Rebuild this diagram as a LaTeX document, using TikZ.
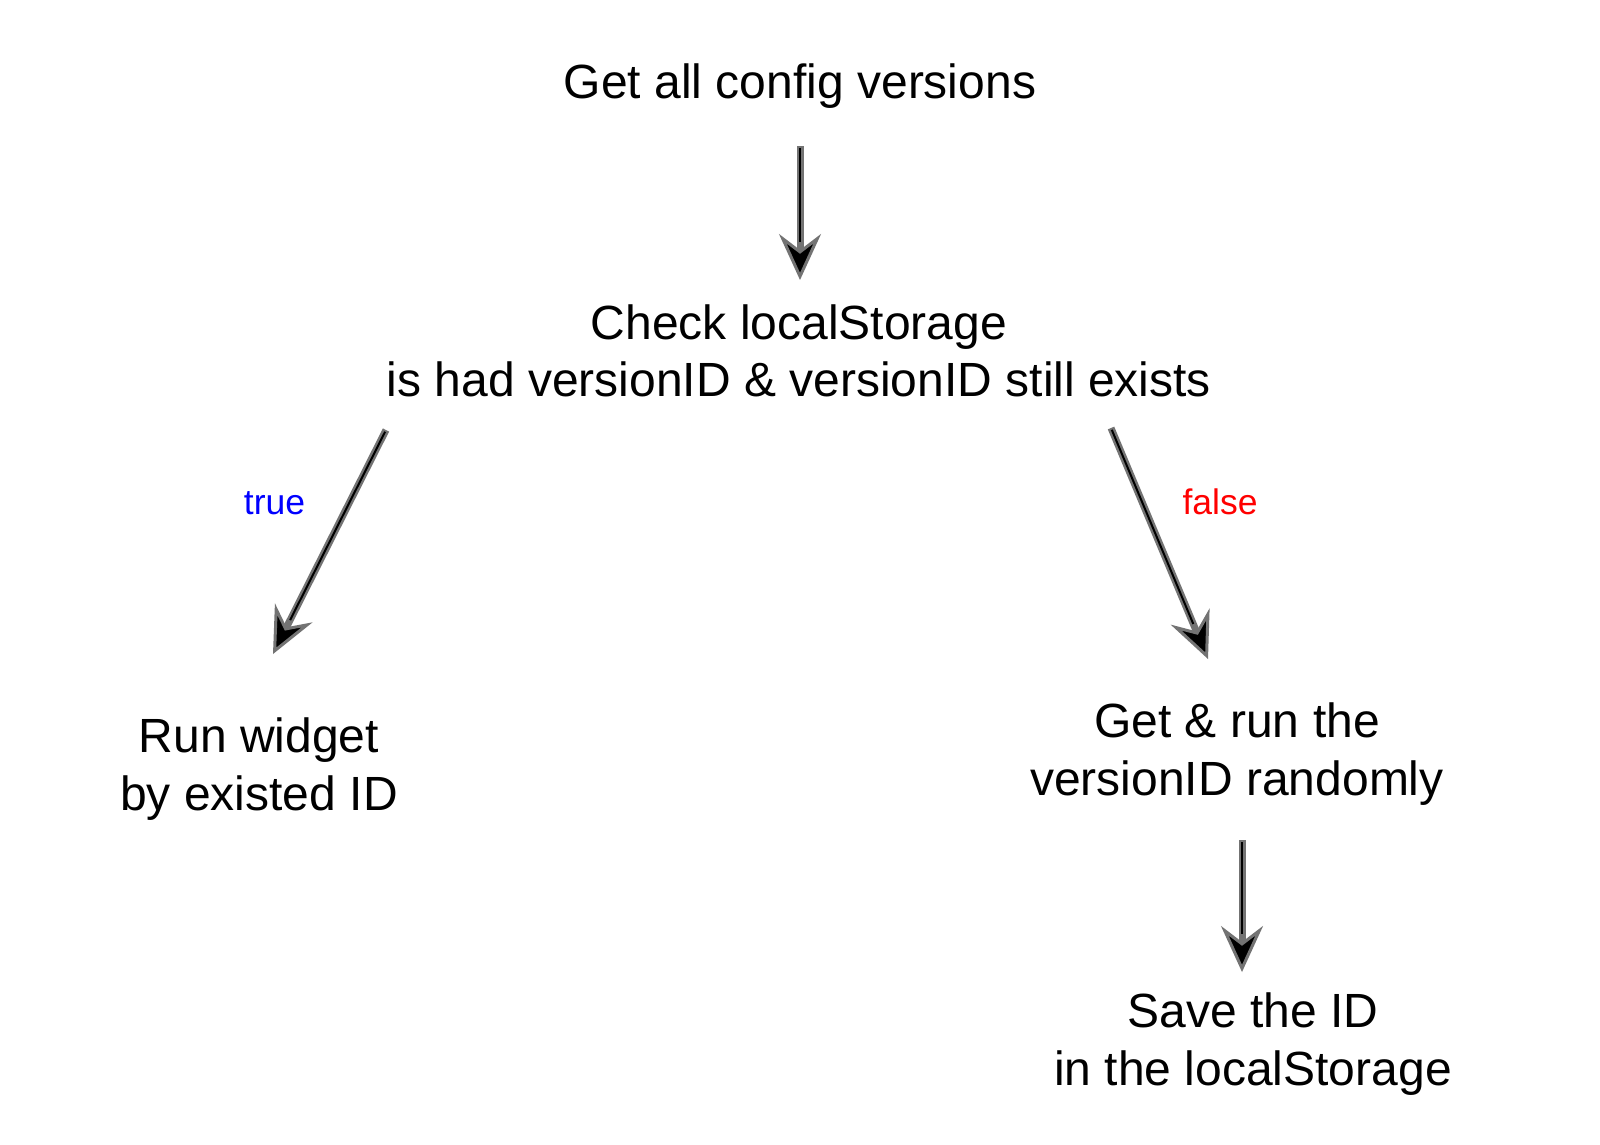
\documentclass[tikz,border=0pt]{standalone}
\usepackage{fontspec}
\setmainfont{Liberation Sans}
\usetikzlibrary{arrows.meta}
\definecolor{flowgrey}{RGB}{115,115,115}
\begin{document}
\begin{tikzpicture}[x=1pt,y=-1pt,
  lbl/.style={font=\fontsize{48}{57.5}\selectfont, align=center, inner sep=0pt, anchor=base},
  cond/.style={font=\fontsize{35.5}{42}\selectfont, inner sep=0pt, anchor=base},
  flowouter/.style={line width=7pt, draw=flowgrey,
    -{Stealth[length=46pt,width=42pt,inset=16pt,fill=black,line width=3pt]}},
  flowinner/.style={line width=2pt, draw=black, shorten >=38pt, shorten <=2pt}]
\useasboundingbox (0,0) rectangle (1600,1144);
\fill[white] (0,0) rectangle (1600,1144);

% multi-line nodes: base anchor is the baseline of the last line
\node[lbl] (get) at (800,98) {Get all config versions};
\node[lbl] (check) at (799,396.5) {Check localStorage\\is had versionID \& versionID still exists};
\node[lbl] (run) at (259,810) {Run widget\\by existed ID};
\node[lbl] (rand) at (1237,795) {Get \& run the\\versionID randomly};
\node[lbl] (save) at (1253,1085) {Save the ID\\in the localStorage};
\node[cond, text={rgb,255:red,0;green,0;blue,255}] (tlbl) at (274.5,514) {true};
\node[cond, text={rgb,255:red,255;green,0;blue,0}] (flbl) at (1220,514) {false};

\coordinate (a1s) at (800,146);  \coordinate (a1e) at (800,280);
\coordinate (a2s) at (386,430);  \coordinate (a2e) at (273,654);
\coordinate (a3s) at (1111,428); \coordinate (a3e) at (1208,659);
\coordinate (a4s) at (1242,840); \coordinate (a4e) at (1242,972);

\foreach \s/\e in {a1s/a1e,a2s/a2e,a3s/a3e,a4s/a4e}{
  \draw[flowouter] (\s) -- (\e);
  \draw[flowinner] (\s) -- (\e);
}
\end{tikzpicture}
\end{document}
